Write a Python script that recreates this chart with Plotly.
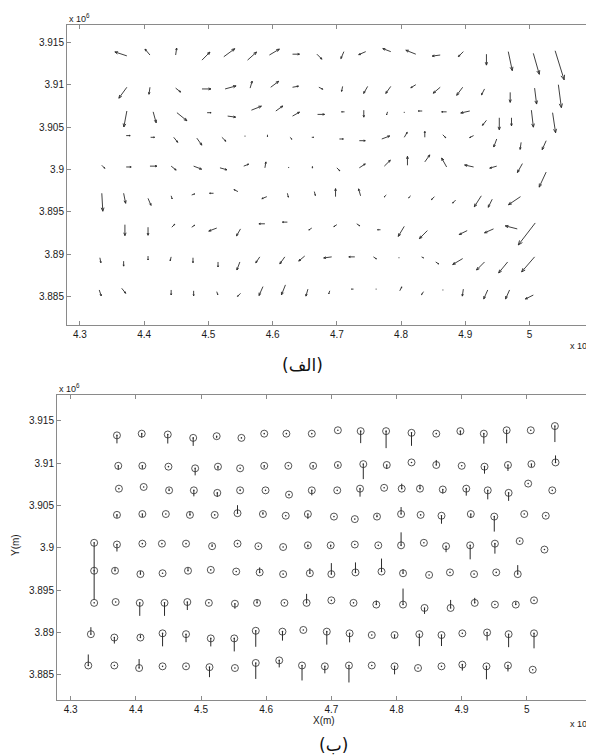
import math
import plotly.graph_objects as go

# ---------------- data ----------------
# Panel (الف): horizontal displacement vectors. Station coordinates in km (UTM),
# U = east component, V = north component (arbitrary units, drawn with ARROW_SCALE)
TOP_X = [
    [437.3, 440.9, 444.9, 449.0, 452.4, 456.1, 459.5, 463.1, 466.9, 471.1, 474.5, 478.4, 482.3, 486.1, 489.7, 493.3, 496.7, 500.6, 504.0],
    [437.3, 440.9, 444.9, 449.0, 452.6, 456.5, 459.7, 463.1, 467.2, 470.9, 474.8, 478.4, 482.3, 486.1, 489.6, 493.0, 497.0, 500.8, 504.5],
    [437.3, 441.4, 445.1, 449.8, 453.0, 456.7, 460.5, 463.1, 467.0, 471.2, 474.2, 477.9, 480.5, 483.3, 487.1, 490.7, 493.3, 495.3, 497.2, 500.3, 503.6],
    [437.2, 441.0, 444.6, 448.2, 452.1, 455.7, 459.2, 462.7, 466.1, 470.4, 473.5, 477.0, 480.5, 483.7, 486.5, 491.3, 494.9, 498.7, 502.6],
    [433.4, 437.2, 440.9, 444.2, 447.7, 451.8, 455.5, 458.8, 462.5, 466.2, 470.0, 473.5, 477.4, 481.0, 483.7, 487.1, 491.3, 494.9, 498.9, 502.6],
    [433.4, 436.8, 440.6, 444.2, 447.4, 450.8, 454.6, 459.1, 462.3, 466.5, 469.8, 473.7, 477.7, 481.5, 485.2, 488.5, 492.5, 494.2, 498.6],
    [437.0, 440.6, 444.3, 447.4, 451.3, 455.0, 458.8, 462.3, 466.1, 470.0, 473.1, 476.8, 480.5, 484.1, 490.3, 494.4, 498.1, 500.9],
    [433.1, 436.8, 440.6, 444.2, 447.6, 451.5, 454.9, 458.0, 461.9, 465.0, 469.2, 472.8, 475.7, 479.6, 483.2, 485.4, 489.6, 493.0, 496.6, 500.8],
    [433.0, 436.5, 444.2, 447.7, 451.3, 455.0, 458.5, 462.0, 465.5, 468.9, 472.6, 476.2, 479.8, 483.5, 486.6, 489.7, 493.5, 496.9, 500.6],
]
TOP_Y = [
    [3913.4, 3913.5, 3913.5, 3912.9, 3913.3, 3912.9, 3913.5, 3913.6, 3913.6, 3913.9, 3913.9, 3913.9, 3913.6, 3913.5, 3913.9, 3913.6, 3913.9, 3913.7, 3914.0],
    [3909.7, 3909.7, 3909.6, 3909.5, 3909.5, 3909.6, 3909.7, 3909.7, 3909.7, 3909.8, 3909.8, 3909.8, 3910.0, 3909.7, 3909.7, 3909.5, 3909.1, 3909.6, 3910.0],
    [3906.9, 3906.8, 3906.7, 3906.7, 3906.3, 3907.0, 3906.9, 3906.3, 3906.5, 3906.8, 3907.0, 3906.8, 3906.8, 3906.9, 3906.8, 3906.9, 3905.8, 3906.1, 3906.1, 3907.0, 3906.7],
    [3904.0, 3903.8, 3903.8, 3903.7, 3903.8, 3904.0, 3904.1, 3903.8, 3903.8, 3903.6, 3903.4, 3903.6, 3903.8, 3903.8, 3904.1, 3904.0, 3903.6, 3903.2, 3903.4],
    [3900.5, 3900.3, 3900.4, 3900.4, 3900.4, 3900.2, 3900.4, 3900.2, 3900.3, 3900.4, 3900.2, 3900.2, 3900.4, 3900.5, 3900.9, 3900.3, 3900.3, 3900.4, 3900.7, 3899.7],
    [3897.2, 3897.2, 3896.6, 3896.9, 3897.0, 3897.2, 3897.4, 3896.8, 3897.2, 3897.4, 3896.8, 3896.9, 3897.0, 3896.9, 3896.8, 3896.4, 3896.9, 3896.5, 3896.8],
    [3893.5, 3893.2, 3893.2, 3893.2, 3893.1, 3893.0, 3893.6, 3893.8, 3893.1, 3893.5, 3893.6, 3892.9, 3893.3, 3892.8, 3892.8, 3893.0, 3893.0, 3893.7],
    [3889.6, 3889.2, 3889.8, 3889.7, 3889.6, 3889.1, 3889.1, 3889.7, 3889.7, 3889.8, 3889.7, 3889.7, 3889.7, 3889.6, 3889.7, 3889.1, 3889.5, 3889.1, 3889.1, 3889.7],
    [3885.8, 3886.0, 3885.8, 3885.7, 3885.6, 3885.4, 3886.2, 3886.4, 3885.9, 3885.7, 3885.9, 3885.9, 3885.7, 3885.6, 3885.8, 3885.9, 3885.8, 3885.8, 3885.2],
]
TOP_U = [
    [-12, -5, 1, 8, 11, 9, 10, 7, 5, -3, -7, -8, -10, -8, -5, 0, 4, 6, 9],
    [-8, -1, 5, 9, 11, 2, 8, 6, 4, -1, -4, -5, -5, -7, -6, -3, 0, 2, 3],
    [-3, 3, 10, 4, 8, 10, 7, 7, 7, -3, 0, -1, 0, -4, -5, -9, -4, 0, 0, 2, 3],
    [4, 4, 4, 5, 4, 0, 0, 2, 2, 4, 6, 8, 3, 0, 3, -4, -3, -1, -4],
    [3, 5, 7, 5, 8, 7, 5, 1, 0, 0, 3, 6, 6, 0, 5, -5, -9, -7, -5, -7],
    [1, 2, 3, 1, 3, -4, -4, -5, 1, 1, 0, -2, -2, -2, -3, -3, -7, -4, -12],
    [0, 0, 3, 3, -8, -4, -6, -5, -3, -3, 3, -3, -6, -8, -8, -9, -12, -17],
    [1, 0, 0, -1, 0, 0, -3, -4, -5, -6, -8, -6, 3, 1, 2, 3, -10, -8, -9, -13],
    [2, 4, 0, 0, 1, -3, -4, -4, -2, -1, -2, -1, 2, -2, -1, -1, -4, -4, -8],
]
TOP_V = [
    [3.0, 4.5, 5.3, 6.1, 6.1, 6.1, 4.5, 0, -3.8, -5.3, -2.3, 2.3, 3.0, -0.8, -3.8, -8.3, -14.4, -15.9, -22.0],
    [-8.3, -5.3, -3.0, 0, 2.3, 5.3, 4.5, 0.8, -1.5, -3.8, -5.3, -5.3, -2.3, -4.5, -6.1, -4.5, -7.6, -12.1, -17.4],
    [-12.1, -8.3, -6.1, 0, -0.8, 3.0, 3.8, 3.0, 0, 0, -5.3, -2.3, -0.8, 0, 0, -1.5, -3.8, -9.1, -6.1, -12.9, -15.2],
    [0, 0, -3.8, -5.3, -3.0, -0.8, -1.5, -1.5, 0, 0, 0, 2.3, 3.8, 4.5, -2.3, -1.5, -6.1, -5.3, -6.8],
    [-2.3, 0, 0, -3.0, -2.3, -1.5, 1.5, 4.5, -0.8, -1.5, -2.3, 3.0, 4.5, 6.8, 5.3, 6.8, 1.5, -1.5, -6.8, -11.4],
    [-13.6, -7.6, -5.3, -2.3, 0.8, 0, 1.5, -1.5, -3.0, -3.0, 6.1, 5.3, -1.5, -1.5, -2.3, -2.3, -8.3, -6.1, -6.1],
    [-8.3, -6.1, 2.3, 1.5, -2.3, -5.3, 0, 0, -1.5, -1.5, -1.5, 0, -7.6, -6.1, -3.0, -3.0, 2.3, -16.7],
    [-3.8, -3.8, -3.0, -3.0, -3.8, -3.8, -6.1, -4.5, -5.3, -3.8, -0.8, 0, -1.5, 0, -0.8, -1.5, -4.5, -6.1, -8.3, -11.4],
    [-4.5, -3.8, -3.8, -3.8, -2.3, -2.3, -6.8, -7.6, -5.3, -2.3, 0, 0, 3.0, -2.3, 0, -5.3, -6.8, -6.8, -3.0],
]

# Panel (ب): vertical displacement. Station coordinates in km, W = up component
BOT_X = [
    [437.1, 440.9, 444.9, 448.8, 452.4, 456.2, 459.7, 463.1, 467.0, 471.0, 474.5, 478.4, 482.3, 486.1, 489.8, 493.4, 496.9, 500.6, 504.3],
    [437.3, 441.0, 445.0, 449.1, 452.6, 456.0, 459.7, 463.4, 467.2, 471.0, 474.9, 478.5, 482.3, 486.1, 490.0, 493.5, 497.1, 500.7, 504.4],
    [437.4, 441.2, 445.1, 448.9, 452.5, 456.0, 459.9, 463.5, 467.0, 470.9, 474.4, 478.1, 480.8, 483.6, 487.1, 490.7, 494.0, 497.2, 500.2, 503.9],
    [437.1, 441.0, 444.6, 448.3, 452.1, 455.6, 459.5, 463.0, 466.4, 470.4, 473.6, 477.0, 480.7, 483.7, 486.9, 491.4, 495.0, 499.6, 502.9],
    [433.6, 437.1, 441.0, 444.0, 447.7, 451.7, 455.6, 458.8, 462.6, 466.4, 469.9, 473.6, 477.2, 480.7, 484.2, 487.6, 491.3, 495.1, 498.9, 502.7],
    [433.6, 436.8, 440.7, 444.1, 448.0, 451.5, 455.4, 459.0, 462.6, 466.7, 470.0, 473.7, 477.7, 481.0, 485.0, 488.2, 491.9, 495.3, 498.6],
    [433.6, 436.9, 440.6, 444.4, 447.9, 451.2, 455.2, 458.6, 462.8, 466.2, 470.0, 473.4, 476.9, 481.0, 484.3, 488.3, 492.0, 495.1, 498.3, 501.1],
    [433.1, 436.7, 440.7, 444.1, 447.7, 451.5, 455.1, 458.4, 462.5, 465.7, 469.3, 472.8, 476.2, 479.7, 483.5, 486.9, 490.1, 493.9, 497.2, 501.1],
    [432.7, 436.7, 440.5, 444.1, 447.7, 451.3, 455.2, 458.4, 462.0, 465.5, 469.0, 472.7, 476.2, 479.7, 483.3, 486.9, 490.1, 493.8, 497.1, 500.9],
]
BOT_Y = [
    [3913.3, 3913.5, 3913.4, 3913.0, 3913.2, 3913.0, 3913.5, 3913.5, 3913.5, 3913.9, 3913.8, 3913.8, 3913.6, 3913.5, 3913.8, 3913.5, 3913.9, 3913.9, 3914.4],
    [3909.7, 3909.7, 3909.6, 3909.4, 3909.6, 3909.4, 3909.7, 3909.7, 3909.7, 3909.8, 3909.9, 3909.8, 3910.1, 3909.8, 3909.7, 3909.6, 3909.8, 3909.9, 3910.1],
    [3907.0, 3907.2, 3906.8, 3906.8, 3906.5, 3906.8, 3906.8, 3906.3, 3906.8, 3906.8, 3907.0, 3907.1, 3907.0, 3907.0, 3906.9, 3907.0, 3906.8, 3906.5, 3907.6, 3906.8],
    [3903.9, 3904.0, 3904.0, 3903.9, 3903.9, 3904.1, 3904.0, 3903.8, 3904.0, 3903.7, 3903.4, 3903.7, 3904.0, 3903.9, 3903.8, 3904.0, 3903.7, 3904.0, 3903.8],
    [3900.6, 3900.4, 3900.5, 3900.5, 3900.5, 3900.2, 3900.5, 3900.2, 3900.1, 3900.3, 3900.3, 3900.4, 3900.3, 3900.3, 3900.6, 3900.2, 3900.3, 3900.5, 3900.8, 3899.8],
    [3897.3, 3897.3, 3896.9, 3897.0, 3897.3, 3897.4, 3897.2, 3897.1, 3896.9, 3897.0, 3896.9, 3897.1, 3897.2, 3897.0, 3896.8, 3897.1, 3896.9, 3897.1, 3896.9],
    [3893.5, 3893.6, 3893.5, 3893.5, 3893.6, 3893.5, 3893.4, 3893.5, 3893.5, 3893.5, 3893.8, 3893.5, 3893.3, 3893.3, 3892.9, 3892.9, 3893.5, 3893.3, 3893.3, 3893.8],
    [3889.8, 3889.4, 3889.4, 3889.9, 3889.8, 3889.3, 3889.3, 3890.2, 3890.1, 3890.3, 3890.1, 3889.9, 3889.7, 3889.7, 3889.8, 3889.7, 3889.9, 3890.0, 3889.8, 3889.9],
    [3886.1, 3886.1, 3885.8, 3886.0, 3886.0, 3885.9, 3885.8, 3886.4, 3886.7, 3886.1, 3886.0, 3886.1, 3886.1, 3886.0, 3885.8, 3886.0, 3886.2, 3886.0, 3886.1, 3885.6],
]
BOT_W = [
    [-8, -4, -9, -8, -2, 0, 0, 0, 0, 0, -12, -17, -13, 0, -4, -10, -13, 0, -16],
    [-4, -3, 0, -7, -3, 0, -2, 0, -2, -2, -15, -4, 0, 5, 0, -7, -6, -3, 7],
    [0, 0, 2, -6, -4, 1, 0, -1, -5, 0, -8, 0, 5, 4, -4, -7, -9, -8, 0, 0],
    [-3, -3, 0, 3, 0, 8, 2, 0, -5, 0, 0, 2, 7, 0, -8, -4, -15, 0, 0],
    [-28, -7, 0, 0, 0, 2, 0, 0, 0, -2, -2, 0, 0, 13, 0, -6, -14, -10, 0, 0],
    [-29, 3, 3, 0, 3, 0, 0, 5, 0, 5, 11, 10, 13, 4, 0, 0, 0, 0, 9],
    [0, 0, -13, -13, -8, 0, -5, 3, 0, 9, 0, 0, 4, 16, -6, 8, 5, 0, 3, 0],
    [7, -6, 3, -13, -8, -8, -13, -16, -9, 0, -13, -9, 0, -3, -12, -11, 0, -8, -13, -15],
    [11, 0, 9, 0, 0, -10, 0, -16, -7, -15, -7, -17, 0, -8, 0, 0, -6, -13, -6, 0],
]

X_TICKS = [430, 440, 450, 460, 470, 480, 490, 500, 510]
X_TICK_LABELS = ["4.3", "4.4", "4.5", "4.6", "4.7", "4.8", "4.9", "5", "5.1"]
Y_TICKS = [3885, 3890, 3895, 3900, 3905, 3910, 3915]
Y_TICK_LABELS = ["3.885", "3.89", "3.895", "3.9", "3.905", "3.91", "3.915"]

# ---------------- layout geometry ----------------
# The page body has an 8 px margin, so the figure is sized to the window minus it
OFF = 8
W, H = 594 - OFF, 756 - OFF


def fx(px):
    return (px - OFF) / W


def fy(py):
    return 1 - (py - OFF) / H


TOP_DX = [fx(67), 1.0]
TOP_DY = [fy(325), fy(25)]
BOT_DX = [fx(57), fx(593)]
BOT_DY = [fy(700), fy(395)]
TOP_XR = [427.98, 510.05]
TOP_YR = [3881.67, 3917.04]
BOT_XR = [427.90, 510.15]
BOT_YR = [3882.02, 3918.07]

ARROW_SCALE = 0.1555   # km of arrow per unit of U/V
VERT_SCALE = 0.1182    # km of stem per unit of W

INK = "#2a2a2a"

# pixel per km factors (used only to shape the arrow heads)
kx = (TOP_DX[1] - TOP_DX[0]) * W / (TOP_XR[1] - TOP_XR[0])
ky = (TOP_DY[1] - TOP_DY[0]) * H / (TOP_YR[1] - TOP_YR[0])

qx, qy = [], []
th = math.radians(22)
for xr, yr, ur, vr in zip(TOP_X, TOP_Y, TOP_U, TOP_V):
    for x, y, u, v in zip(xr, yr, ur, vr):
        dx, dy = u * ARROW_SCALE, v * ARROW_SCALE
        px, py = dx * kx, dy * ky
        L = math.hypot(px, py)
        if L < 0.3:
            qx += [x, x + 0.12, None]
            qy += [y, y, None]
            continue
        hx, hy = x + dx, y + dy
        qx += [x, hx, None]
        qy += [y, hy, None]
        if L < 1.5:
            continue
        h = min(0.3 * L, 2.0 + 0.1 * L)
        ux, uy = px / L, py / L
        pts = []
        for s in (1, -1):
            c, sn = math.cos(th), math.sin(th) * s
            rx = ux * c - uy * sn
            ry = ux * sn + uy * c
            pts.append((hx - h * rx / kx, hy - h * ry / ky))
        qx += [pts[0][0], hx, pts[1][0], None]
        qy += [pts[0][1], hy, pts[1][1], None]

fig = go.Figure()
fig.add_trace(go.Scatter(x=qx, y=qy, mode="lines", line=dict(color=INK, width=0.9),
                         hoverinfo="skip", showlegend=False, xaxis="x", yaxis="y"))

# bottom panel stems + circles
sx, sy, cx, cy = [], [], [], []
for xr, yr, wr in zip(BOT_X, BOT_Y, BOT_W):
    for x, y, w in zip(xr, yr, wr):
        cx.append(x)
        cy.append(y)
        if w != 0:
            sx += [x, x, None]
            sy += [y, y + w * VERT_SCALE, None]
fig.add_trace(go.Scatter(x=sx, y=sy, mode="lines", line=dict(color=INK, width=1.0),
                         hoverinfo="skip", showlegend=False, xaxis="x2", yaxis="y2"))
fig.add_trace(go.Scatter(x=cx, y=cy, mode="markers",
                         marker=dict(symbol="circle-open", size=7, color=INK, line=dict(width=0.8, color=INK)),
                         hoverinfo="skip", showlegend=False, xaxis="x2", yaxis="y2"))
fig.add_trace(go.Scatter(x=cx, y=cy, mode="markers",
                         marker=dict(symbol="circle", size=1.6, color=INK),
                         hoverinfo="skip", showlegend=False, xaxis="x2", yaxis="y2"))

tickfont = dict(family="Liberation Sans, Arial, sans-serif", size=10, color="#1a1a1a")
axis_common = dict(showgrid=False, zeroline=False, showline=True, linecolor="#8a8a8a", linewidth=1,
                   mirror="ticks", ticks="inside", ticklen=4, tickcolor="#8a8a8a", tickwidth=1,
                   tickfont=tickfont)

fig.update_layout(
    width=W, height=H, margin=dict(l=0, r=0, t=0, b=0),
    paper_bgcolor="white", plot_bgcolor="white",
    xaxis=dict(domain=TOP_DX, range=TOP_XR, anchor="y", tickvals=X_TICKS, ticktext=X_TICK_LABELS, **axis_common),
    yaxis=dict(domain=TOP_DY, range=TOP_YR, anchor="x", tickvals=Y_TICKS, ticktext=Y_TICK_LABELS, **axis_common),
    xaxis2=dict(domain=BOT_DX, range=BOT_XR, anchor="y2", tickvals=X_TICKS, ticktext=X_TICK_LABELS, **axis_common),
    yaxis2=dict(domain=BOT_DY, range=BOT_YR, anchor="x2", tickvals=Y_TICKS, ticktext=Y_TICK_LABELS, **axis_common),
)

small = dict(family="Liberation Sans, Arial, sans-serif", size=9, color="#1a1a1a")
lab = dict(family="Liberation Sans, Arial, sans-serif", size=10, color="#1a1a1a")
arab = dict(family="DejaVu Sans, Noto Sans, sans-serif", size=17, color="#111111")
ann = [
    dict(text="x 10<sup>6</sup>", x=fx(67), y=fy(18), xanchor="left", yanchor="middle", font=small),
    dict(text="x 10<sup>5</sup>", x=fx(568), y=fy(345), xanchor="left", yanchor="middle", font=small),
    dict(text="(الف)", x=fx(302), y=fy(365), xanchor="center", yanchor="middle", font=arab),
    dict(text="x 10<sup>6</sup>", x=fx(57), y=fy(388), xanchor="left", yanchor="middle", font=small),
    dict(text="x 10<sup>5</sup>", x=fx(568), y=fy(723), xanchor="left", yanchor="middle", font=small),
    dict(text="X(m)", x=fx(324), y=fy(720), xanchor="center", yanchor="middle", font=lab),
    dict(text="Y(m)", x=fx(15), y=fy(545), xanchor="center", yanchor="middle", textangle=-90, font=lab),
    dict(text="(ب)", x=fx(334), y=fy(745), xanchor="center", yanchor="middle", font=arab),
]
for a in ann:
    a.update(xref="paper", yref="paper", showarrow=False)
fig.update_layout(annotations=ann)

fig.write_html("out.html")
